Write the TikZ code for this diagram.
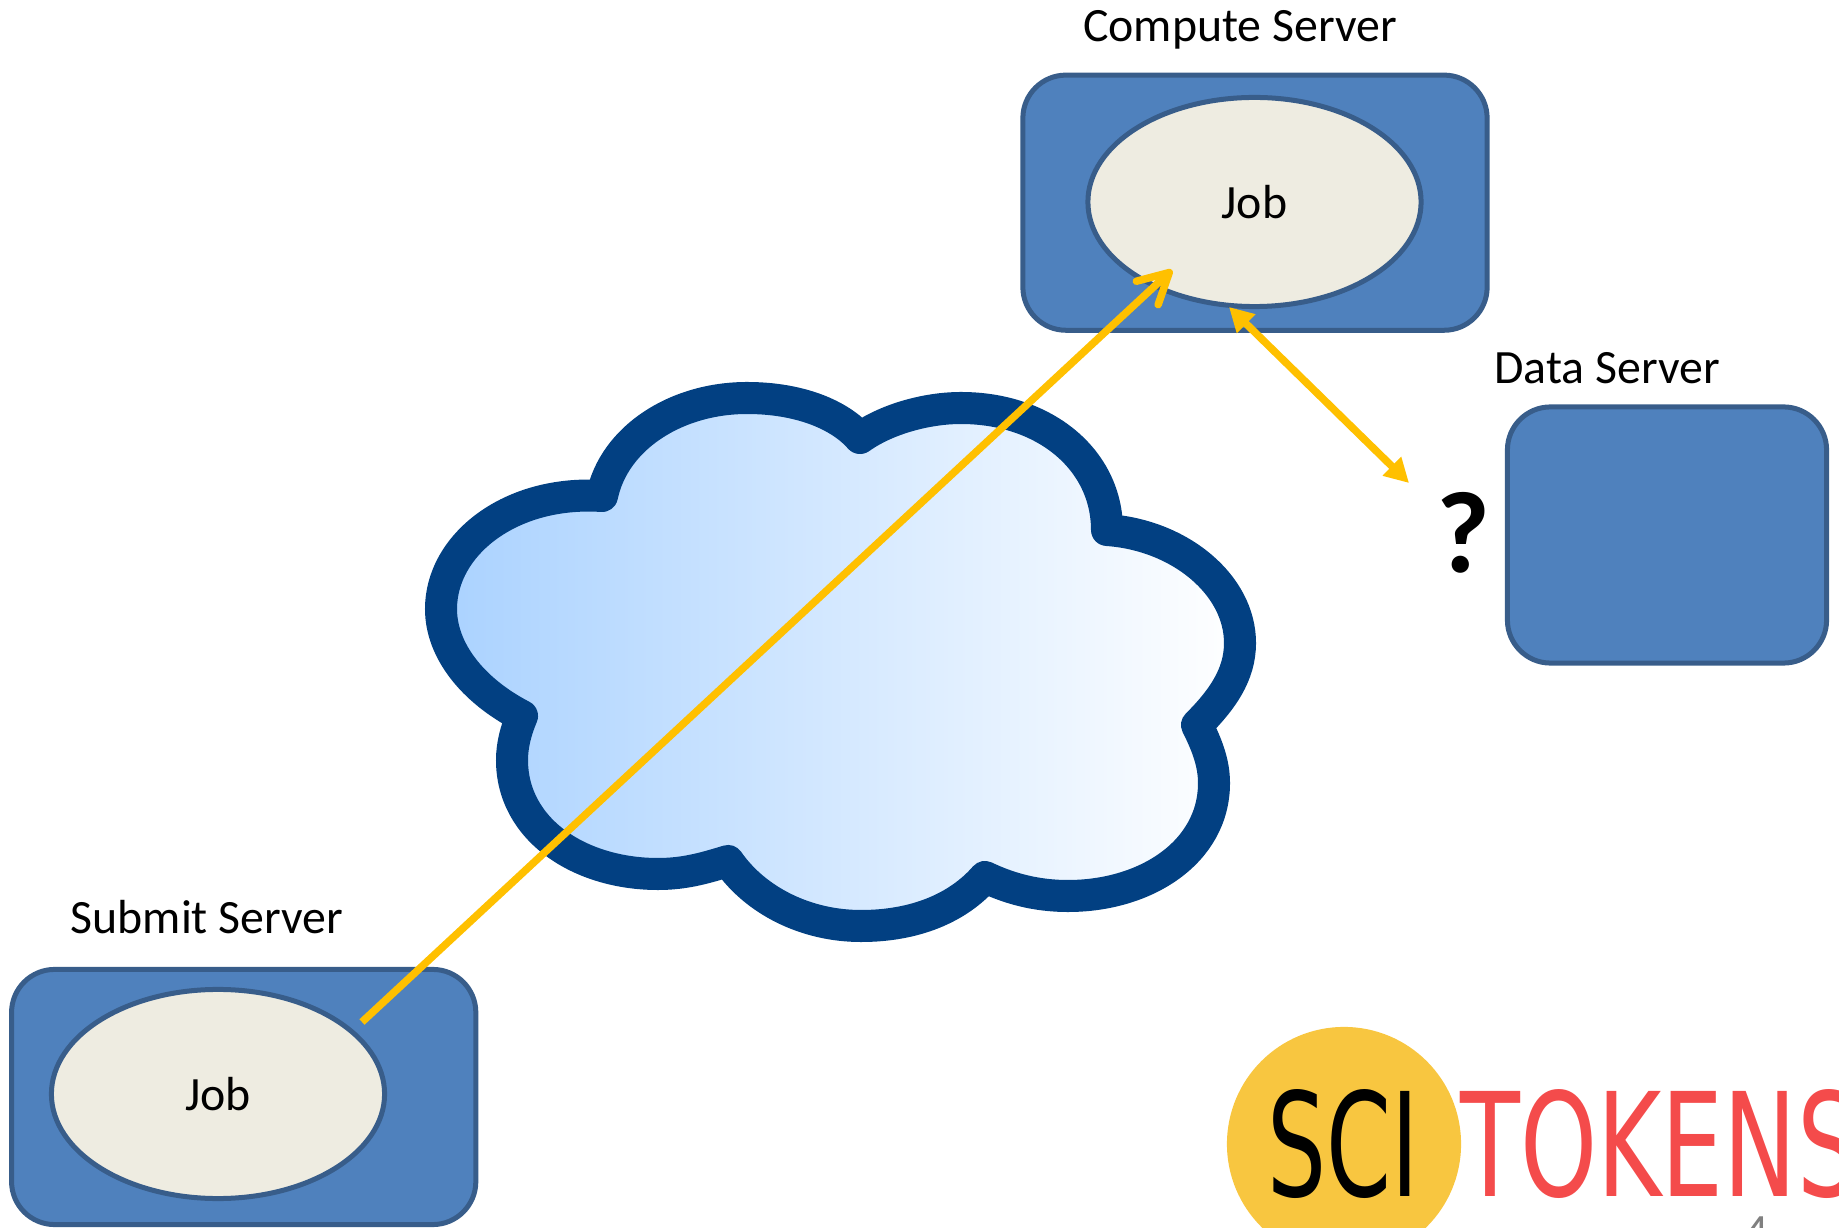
\documentclass[tikz,border=0pt]{standalone}
\usepackage{fontspec}
\setmainfont{Carlito}
\newfontfamily\logofont{DejaVu Sans}
\usetikzlibrary{arrows.meta,shapes.geometric}
\definecolor{boxblue}{HTML}{4F81BD}
\definecolor{boxline}{HTML}{385D8A}
\definecolor{jobfill}{HTML}{EEECE1}
\definecolor{arrowgold}{HTML}{FFC000}
\definecolor{cloudline}{HTML}{024082}
\definecolor{cloudfill}{HTML}{AAD2FF}
\definecolor{logogold}{HTML}{F8C640}
\definecolor{logored}{HTML}{F44B4B}

\begin{document}
\begin{tikzpicture}[x=0.01cm,y=-0.01cm,
server node/.style={rectangle,rounded corners=0.43cm,draw=boxline,fill=boxblue,line width=0.05cm},
job node/.style={ellipse,draw=boxline,fill=jobfill,line width=0.05cm,inner sep=0pt,
  minimum width=3.33cm,minimum height=2.09cm,font=\fontsize{13.6}{16}\selectfont},
label node/.style={anchor=base,font=\fontsize{13.6}{16}\selectfont},
logo node/.style={anchor=base west,inner sep=0pt,font=\logofont\fontsize{41}{41}\selectfont,transform shape},
gold arrow/.style={draw=arrowgold,line width=0.075cm}]

\useasboundingbox (0,0) rectangle (1839,1228);
\clip (0,0) rectangle (1839,1228);

% servers
\node[server node,minimum width=4.64cm,minimum height=2.55cm] (compute) at (1255,202.7) {};
\node[server node,minimum width=3.19cm,minimum height=2.56cm] (data) at (1667,535) {};
\node[server node,minimum width=4.64cm,minimum height=2.55cm] (submit) at (243.7,1097) {};

\node[job node] (job1) at (1254.5,202) {Job};
\node[job node] (job2) at (218,1094) {Job};

\node[label node] (computelabel) at (1240,42) {Compute Server};
\node[label node] (datalabel) at (1607,384) {Data Server};
\node[label node] (submitlabel) at (207,933) {Submit Server};

\node[anchor=base,font=\fontsize{33}{33}\selectfont\bfseries] (question) at (1463.5,573) {?};

% cloud
\path[left color=cloudfill,right color=white,draw=cloudline,line width=0.32cm,line join=round]
(602,496) .. controls (614,438) and (676,398) .. (747,398)
	.. controls (800,398) and (840,415) .. (860,438)
	.. controls (885,420) and (925,408) .. (961,408)
	.. controls (1045,408) and (1107,460) .. (1107,530)
	.. controls (1180,535) and (1240,585) .. (1240,643)
	.. controls (1240,675) and (1222,700) .. (1197,725)
	.. controls (1207,745) and (1214,763) .. (1214,783)
	.. controls (1214,852) and (1146,896) .. (1068,896)
	.. controls (1035,896) and (1008,888) .. (985,877)
	.. controls (958,908) and (915,926) .. (861,926)
	.. controls (805,926) and (755,900) .. (728,861)
	.. controls (705,868) and (685,874) .. (658,874)
	.. controls (580,874) and (512,830) .. (512,760)
	.. controls (512,745) and (516,730) .. (522,716)
	.. controls (472,690) and (441,650) .. (441,609)
	.. controls (441,545) and (510,490) .. cycle;

% arrows
\coordinate (jobstart) at (362,1022);
\coordinate (jobend) at (1172,270);
\coordinate (datatop) at (1229,307);
\coordinate (databottom) at (1409,483);
\draw[gold arrow,-{Straight Barb[length=0.3cm,width=0.32cm,round]}] (jobstart) -- (jobend);
\draw[gold arrow,{Triangle[length=0.24cm,width=0.25cm]}-{Triangle[length=0.24cm,width=0.25cm]}] (datatop) -- (databottom);

% logo
\node[circle,fill=logogold,minimum size=2.34cm,inner sep=0pt] (logocircle) at (1344,1144) {};
\node[logo node,xscale=0.645] (sci) at (1267,1196) {SCI};
\node[logo node,xscale=0.68,text=logored] (tokens) at (1460,1196) {TOKENS};
\node[anchor=base,text=gray,font=\fontsize{13.6}{16}\selectfont] (pagenum) at (1757,1247) {4};

\end{tikzpicture}
\end{document}
